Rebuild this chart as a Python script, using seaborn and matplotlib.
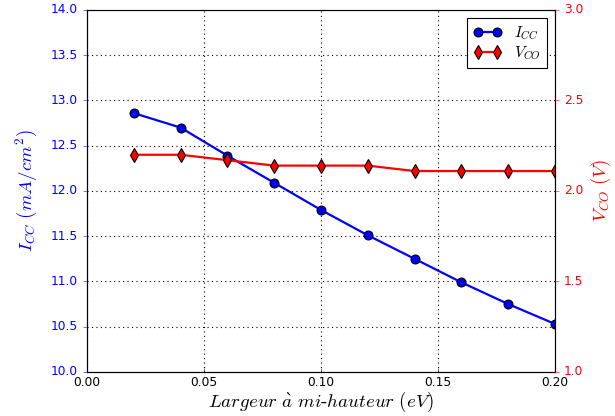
import numpy as np
import matplotlib
matplotlib.use('Agg')
from matplotlib import pyplot as plt
import pandas as pd
import seaborn as sns

# the data
fwhm = [0.02, 0.04, 0.06, 0.08, 0.10, 0.12, 0.14, 0.16, 0.18, 0.20]
icc = [12.86, 12.70, 12.39, 12.09, 11.79, 11.51, 11.25, 10.99, 10.75, 10.53]
vco = [2.20, 2.20, 2.17, 2.14, 2.14, 2.14, 2.11, 2.11, 2.11, 2.11]

df = pd.DataFrame({'fwhm': fwhm, 'icc': icc, 'vco': vco})

plt.style.use('classic')
fig, ax1 = plt.subplots(figsize=(615 / 80, 416 / 80), dpi=80)
fig.subplots_adjust(left=0.1415, right=0.9024, top=0.976, bottom=0.106)
ax2 = ax1.twinx()

# short-circuit current (left axis)
sns.lineplot(data=df, x='fwhm', y='icc', ax=ax1, color='b', marker='o',
             markersize=8, markeredgecolor='k', markeredgewidth=1,
             linewidth=2, label=r'$I_{CC}$', legend=False)
# open-circuit voltage (right axis)
sns.lineplot(data=df, x='fwhm', y='vco', ax=ax2, color='r', marker='d',
             markersize=9, markeredgecolor='k', markeredgewidth=1,
             linewidth=2, label=r'$V_{CO}$', legend=False)

ax1.set_xlim(0, 0.2)
ax1.set_ylim(10, 14)
ax2.set_ylim(1, 3)
ax1.set_xticks(np.arange(0, 0.201, 0.05))
ax1.set_yticks(np.arange(10, 14.01, 0.5))
ax2.set_yticks(np.arange(1, 3.01, 0.5))

ax1.grid(True, color='k', linestyle=':', linewidth=1)
ax1.set_xlabel(r'$Largeur\ \grave{a}\ mi\text{-}hauteur\ (eV)$', fontsize=17, labelpad=0)
ax1.set_ylabel(r'$I_{CC}\ (mA/cm^2)$', color='b', fontsize=17, labelpad=11)
ax2.set_ylabel(r'$V_{CO}\ (V)$', color='r', fontsize=17, labelpad=5)

ax1.yaxis.set_ticks_position('left')
ax2.yaxis.set_ticks_position('right')
ax1.xaxis.set_ticks_position('bottom')
ax1.tick_params(axis='y', colors='b', direction='out')
ax2.tick_params(axis='y', colors='r', direction='out')
ax1.tick_params(axis='x', labelsize=11)
ax1.tick_params(axis='y', labelsize=11)
ax2.tick_params(axis='y', labelsize=11)
ax1.xaxis.set_major_formatter(plt.FormatStrFormatter('%.2f'))
ax1.yaxis.set_major_formatter(plt.FormatStrFormatter('%.1f'))
ax2.yaxis.set_major_formatter(plt.FormatStrFormatter('%.1f'))

h1, l1 = ax1.get_legend_handles_labels()
h2, l2 = ax2.get_legend_handles_labels()
ax2.legend(h1 + h2, l1 + l2, loc='upper right', numpoints=2, fontsize=14,
           labelspacing=0.15, handlelength=1.8, borderpad=0.4)

plt.savefig('out.png', dpi=80)
